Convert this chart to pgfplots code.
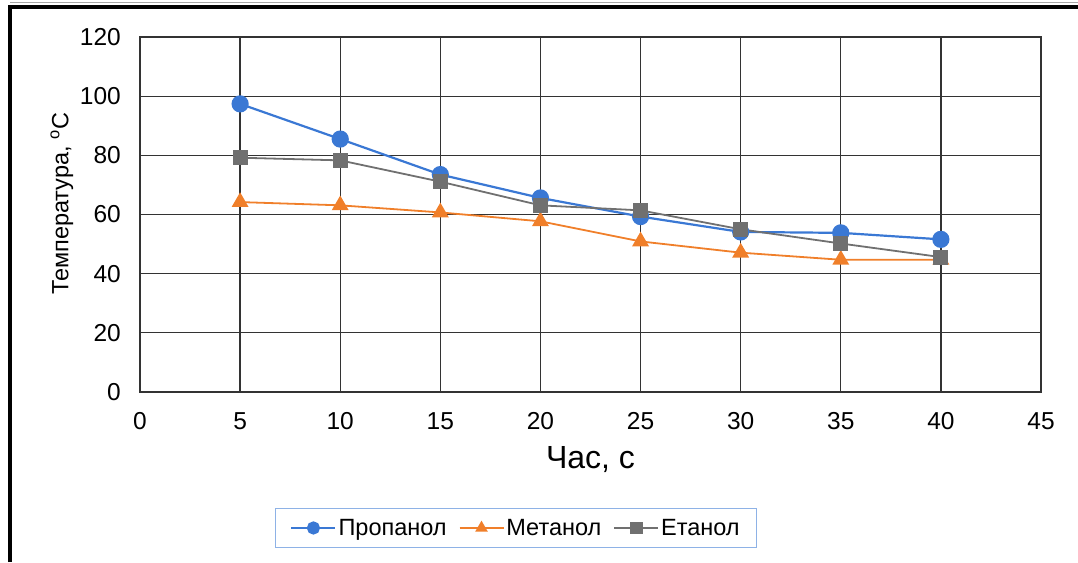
\documentclass[border=0pt]{standalone}
\usepackage{fontspec}
\setmainfont{Liberation Sans}
\usepackage{pgfplots}
\pgfplotsset{compat=1.18}

\definecolor{propblue}{HTML}{3A78D4}
\definecolor{metorange}{HTML}{F07F2A}
\definecolor{etgray}{HTML}{707070}
\definecolor{gridgray}{HTML}{333333}
\definecolor{legframe}{HTML}{8EB2E6}

\begin{document}
\begin{tikzpicture}
% page size and outer frame (left and top edges)
\path[use as bounding box] (0pt,0pt) rectangle (1078pt,-562pt);
\draw[black!35, line width=1pt] (10pt,-2.5pt) -- (1078pt,-2.5pt);
\draw[black, line width=4pt] (10pt,-562pt) -- (10pt,-6.5pt) -- (1078pt,-6.5pt);

\begin{axis}[
  at={(140pt,-392pt)}, anchor=south west,
  scale only axis, width=901pt, height=355pt,
  xmin=0, xmax=45, ymin=0, ymax=120,
  xtick={0,5,...,45}, ytick={0,20,...,120},
  grid=major,
  major grid style={gridgray, line width=1.3pt},
  axis line style={gridgray, line width=1.3pt},
  major tick length=0pt,
  /pgf/number format/assume math mode=true,
  tick label style={font=\fontsize{24.5}{28}\selectfont, inner sep=0pt},
  xticklabel style={anchor=north, yshift=-20pt},
  yticklabel style={anchor=east, xshift=-19pt},
  xlabel={Час, с},
  xlabel style={font=\fontsize{32}{36}\selectfont,
    at={(axis description cs:0.5,-0.1915)}, anchor=center},
  ylabel={Температура, \textsuperscript{o}C},
  ylabel style={font=\fontsize{23.5}{27}\selectfont,
    at={(axis description cs:-0.0866,0.53)}, anchor=center},
  legend columns=3,
  legend style={at={(axis description cs:0.4173,-0.383)}, anchor=center,
    draw=legframe, line width=1pt, inner xsep=15pt, inner ysep=9pt,
    font=\fontsize{23.5}{27}\selectfont,
    /tikz/every even column/.append style={column sep=10pt}},
  legend image code/.code={%
    \draw[mark repeat=2, mark phase=2, #1, mark size=5.5pt]
      plot coordinates {(0pt,0pt) (22pt,0pt) (44pt,0pt)};},
  every axis plot/.append style={line width=1.8pt},
]
\addplot[propblue, line width=2.2pt, mark=*, mark size=7.5pt, mark options={solid, fill=propblue, draw=propblue}]
  coordinates {(5,97.4) (10,85.5) (15,73.5) (20,65.6) (25,59.3) (30,54.1) (35,53.8) (40,51.6)};
\addlegendentry{Пропанол}
\addplot[metorange, mark=triangle*, mark size=8pt, mark options={solid, fill=metorange, draw=metorange}]
  coordinates {(5,64.2) (10,63.1) (15,60.7) (20,57.7) (25,50.9) (30,47.1) (35,44.7) (40,44.7)};
\addlegendentry{Метанол}
\addplot[etgray, mark=square*, mark size=6.5pt, mark options={solid, fill=etgray, draw=etgray}]
  coordinates {(5,79.2) (10,78.3) (15,71.1) (20,63.1) (25,61.4) (30,55.0) (35,50.2) (40,45.6)};
\addlegendentry{Етанол}
\end{axis}
\end{tikzpicture}
\end{document}
